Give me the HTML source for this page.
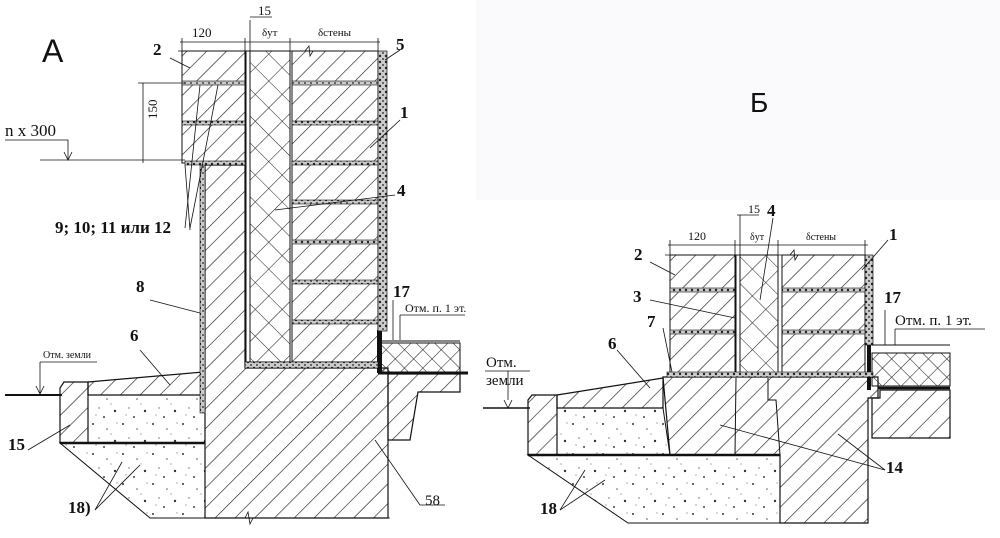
<!DOCTYPE html>
<html><head><meta charset="utf-8"><style>
html,body{margin:0;padding:0;background:#fff;}
svg{display:block;}
text{font-family:"Liberation Serif","DejaVu Serif",serif;fill:#111;}
.b{font-weight:bold;font-size:17px;}
</style></head><body>
<svg width="1000" height="538" viewBox="0 0 1000 538" xmlns="http://www.w3.org/2000/svg">
<defs>
<pattern id="h" width="14" height="14" patternUnits="userSpaceOnUse" patternTransform="rotate(45)">
<line x1="0" y1="0" x2="0" y2="14" stroke="#222" stroke-width="1.3"/></pattern>
<pattern id="x" width="19" height="19" patternUnits="userSpaceOnUse" patternTransform="rotate(45)">
<line x1="0" y1="0" x2="0" y2="19" stroke="#222" stroke-width="1.1"/><line x1="0" y1="0" x2="19" y2="0" stroke="#222" stroke-width="1.1"/></pattern>
<pattern id="xs" width="13" height="13" patternUnits="userSpaceOnUse" patternTransform="rotate(45)">
<line x1="0" y1="0" x2="0" y2="13" stroke="#222" stroke-width="1.1"/><line x1="0" y1="0" x2="13" y2="0" stroke="#222" stroke-width="1.1"/></pattern>
<pattern id="d" width="30" height="30" patternUnits="userSpaceOnUse">
<circle cx="3" cy="4" r="1" fill="#333"/><circle cx="17" cy="9" r="0.8" fill="#555"/><circle cx="25" cy="21" r="1.2" fill="#333"/><circle cx="9" cy="18" r="0.7" fill="#666"/><circle cx="14" cy="27" r="1" fill="#444"/><circle cx="27" cy="3" r="0.6" fill="#777"/><circle cx="6" cy="25" r="0.6" fill="#777"/><circle cx="21" cy="14" r="0.6" fill="#777"/></pattern>
<pattern id="m" width="6" height="6" patternUnits="userSpaceOnUse">
<rect width="6" height="6" fill="#ccc"/><circle cx="2" cy="2" r="1.2" fill="#222"/><circle cx="5" cy="5" r="1" fill="#444"/></pattern>
</defs>
<rect x="476" y="0" width="524" height="200" fill="#fafafc"/>

<!-- ===== PANEL A ===== -->
<text x="42" y="62" style="font-family:'Liberation Sans',sans-serif;font-size:32px">А</text>
<polygon points="60,443 205,443 205,518 150,518" fill="url(#d)" stroke="#111" stroke-width="1"/>
<rect x="88" y="395" width="117" height="48" fill="url(#d)" stroke="#111" stroke-width="1"/>
<polygon points="64,382 88,382 88,443 60,443 60,388" fill="url(#h)" stroke="#111" stroke-width="1.2"/>
<polygon points="88,382 203,372 205,395 88,395" fill="url(#h)" stroke="#111" stroke-width="1.2"/>
<line x1="60" y1="443" x2="205" y2="443" stroke="#111" stroke-width="2.5"/>
<line x1="5" y1="395" x2="62" y2="395" stroke="#111" stroke-width="2"/>
<polygon points="205,165 245,165 245,368 388,368 388,518 205,518" fill="url(#h)" stroke="#111" stroke-width="1.2"/>
<rect x="200" y="165" width="5" height="248" fill="url(#m)" stroke="#111" stroke-width="0.6"/>
<polygon points="388,374 460,374 460,392 418,392 410,440 388,440" fill="url(#h)" stroke="#111" stroke-width="1.2"/>
<rect x="380" y="343" width="80" height="29" fill="url(#xs)" stroke="#111" stroke-width="1"/>
<line x1="380" y1="341" x2="460" y2="341" stroke="#111" stroke-width="1"/>
<line x1="378" y1="373" x2="468" y2="373" stroke="#111" stroke-width="3"/>
<rect x="377" y="330" width="5" height="43" fill="#111"/>
<rect x="182" y="51" width="63" height="112" fill="url(#h)" stroke="#111" stroke-width="1"/>
<rect x="246" y="51" width="4" height="311" fill="#fff" stroke="#111" stroke-width="1"/>
<rect x="250" y="51" width="40" height="311" fill="url(#x)" stroke="#111" stroke-width="1"/>
<rect x="292" y="51" width="86" height="311" fill="url(#h)" stroke="#111" stroke-width="1"/>
<rect x="378" y="51" width="9" height="280" fill="url(#m)" stroke="#111" stroke-width="0.7"/>
<g fill="url(#m)" stroke="#111" stroke-width="0.6">
<rect x="182" y="81" width="63" height="4"/><rect x="182" y="121" width="63" height="4"/><rect x="185" y="161" width="60" height="4"/>
<rect x="292" y="81" width="86" height="4"/><rect x="292" y="121" width="86" height="4"/><rect x="292" y="161" width="86" height="4"/>
<rect x="292" y="200" width="86" height="4"/><rect x="292" y="240" width="86" height="4"/><rect x="292" y="280" width="86" height="4"/><rect x="292" y="320" width="86" height="4"/>
<rect x="245" y="362" width="133" height="6"/>
</g>
<g stroke="#111" stroke-width="0.8" fill="none">
<line x1="180" y1="42" x2="380" y2="42"/>
<line x1="182" y1="38" x2="182" y2="55"/><line x1="245" y1="38" x2="245" y2="55"/><line x1="250" y1="20" x2="250" y2="55"/><line x1="290" y1="38" x2="290" y2="55"/><line x1="378" y1="38" x2="378" y2="55"/>
<line x1="178" y1="51" x2="305" y2="51"/><polyline points="305,51 309,46 310,56 313,51 378,51"/>
<line x1="250" y1="17" x2="272" y2="17"/>
<line x1="143" y1="83" x2="143" y2="163"/><line x1="138" y1="83" x2="185" y2="83"/><line x1="40" y1="160" x2="185" y2="160"/>
<polyline points="5,140 68,140 68,160"/><polyline points="64,152 68,160 72,152"/>
<polyline points="40,362 97,362"/><line x1="40" y1="362" x2="40" y2="394"/><polyline points="36,386 40,394 44,386"/>
<line x1="400" y1="315" x2="465" y2="315"/><line x1="400" y1="315" x2="400" y2="340"/><line x1="393" y1="300" x2="393" y2="340"/>
<line x1="185" y1="165" x2="190" y2="230"/><line x1="218" y1="85" x2="190" y2="228"/><line x1="200" y1="85" x2="185" y2="228"/>
<line x1="170" y1="58" x2="190" y2="68"/><line x1="400" y1="50" x2="385" y2="60"/><line x1="400" y1="120" x2="370" y2="148"/><line x1="395" y1="195" x2="275" y2="210"/>
<line x1="150" y1="300" x2="200" y2="313"/><line x1="140" y1="350" x2="170" y2="385"/>
<line x1="28" y1="450" x2="70" y2="425"/><line x1="95" y1="510" x2="122" y2="462"/><line x1="95" y1="510" x2="140" y2="465"/>
<line x1="375" y1="440" x2="420" y2="505"/><line x1="420" y1="505" x2="445" y2="505"/>
<line x1="200" y1="518" x2="245" y2="518"/><polyline points="245,518 248,512 250,524 253,518 390,518"/>
</g>
<g style="font-size:13px">
<text x="192" y="37">120</text><text x="258" y="15">15</text><text x="262" y="36" style="font-size:11px">δут</text><text x="318" y="36" style="font-size:11px">δстены</text>
<text x="152" y="134" transform="rotate(-90 147 124)">150</text>
<text x="5" y="136" style="font-size:17px">n x 300</text>
<text x="43" y="358" style="font-size:10px">Отм. земли</text>
<text x="405" y="312" style="font-size:12px">Отм. п. 1 эт.</text>
</g>
<text class="b" x="153" y="55">2</text><text class="b" x="396" y="50">5</text><text class="b" x="400" y="118">1</text><text class="b" x="397" y="196">4</text>
<text class="b" x="55" y="233">9; 10; 11 или 12</text><text class="b" x="136" y="292">8</text><text class="b" x="130" y="341">6</text>
<text class="b" x="393" y="297">17</text><text class="b" x="8" y="450">15</text><text class="b" x="68" y="513">18)</text>
<text x="425" y="505" style="font-size:15px">58</text>

<!-- ===== PANEL B ===== -->
<text x="750" y="112" style="font-family:'Liberation Sans',sans-serif;font-size:28px">Б</text>
<polygon points="528,455 780,455 780,523 628,523" fill="url(#d)" stroke="#111" stroke-width="1"/>
<polygon points="557,408 663,408 670,455 557,455" fill="url(#d)" stroke="#111" stroke-width="1"/>
<polygon points="532,395 557,395 557,455 528,455 528,400" fill="url(#h)" stroke="#111" stroke-width="1.2"/>
<polygon points="557,395 663,378 663,408 557,408" fill="url(#h)" stroke="#111" stroke-width="1.2"/>
<line x1="528" y1="455" x2="780" y2="455" stroke="#111" stroke-width="2.5"/>
<line x1="483" y1="408" x2="530" y2="408" stroke="#111" stroke-width="1.5"/>
<polygon points="663,377 878,377 878,398 868,398 868,523 780,523 780,455 670,455" fill="url(#h)" stroke="#111" stroke-width="1.2"/>
<polyline points="736,378 735,455" stroke="#111" fill="none" stroke-width="1"/>
<polyline points="768,378 768,400 776,400 780,455" stroke="#111" fill="none" stroke-width="1"/>
<polygon points="880,390 950,390 950,438 872,438 872,398 880,398" fill="url(#h)" stroke="#111" stroke-width="1.2"/>
<rect x="872" y="353" width="78" height="33" fill="url(#xs)" stroke="#111" stroke-width="1"/>
<line x1="872" y1="345" x2="950" y2="345" stroke="#111" stroke-width="1"/>
<line x1="878" y1="388" x2="950" y2="388" stroke="#111" stroke-width="2.5"/>
<rect x="867" y="345" width="4" height="45" fill="#111"/>
<rect x="670" y="255" width="65" height="118" fill="url(#h)" stroke="#111" stroke-width="1"/>
<rect x="736" y="255" width="4" height="118" fill="#fff" stroke="#111" stroke-width="1"/>
<rect x="740" y="255" width="38" height="118" fill="url(#x)" stroke="#111" stroke-width="1"/>
<rect x="782" y="255" width="83" height="118" fill="url(#h)" stroke="#111" stroke-width="1"/>
<rect x="865" y="255" width="8" height="90" fill="url(#m)" stroke="#111" stroke-width="0.7"/>
<g fill="url(#m)" stroke="#111" stroke-width="0.6">
<rect x="670" y="288" width="65" height="4"/><rect x="670" y="330" width="65" height="4"/>
<rect x="782" y="288" width="83" height="4"/><rect x="782" y="330" width="83" height="4"/>
<rect x="667" y="372" width="206" height="5"/>
</g>
<g stroke="#111" stroke-width="0.8" fill="none">
<line x1="668" y1="245" x2="868" y2="245"/>
<line x1="670" y1="240" x2="670" y2="258"/><line x1="735" y1="240" x2="735" y2="258"/><line x1="740" y1="215" x2="740" y2="258"/><line x1="778" y1="240" x2="778" y2="258"/><line x1="865" y1="240" x2="865" y2="258"/>
<line x1="665" y1="255" x2="790" y2="255"/><polyline points="790,255 794,250 795,260 798,255 865,255"/>
<line x1="737" y1="215" x2="759" y2="215"/>
<line x1="485" y1="371" x2="530" y2="371"/><line x1="508" y1="400" x2="508" y2="371"/><polyline points="504,400 508,408 512,400"/>
<line x1="895" y1="329" x2="985" y2="329"/><line x1="895" y1="329" x2="895" y2="345"/><line x1="885" y1="310" x2="885" y2="345"/>
<line x1="650" y1="262" x2="675" y2="275"/><line x1="650" y1="300" x2="735" y2="318"/><line x1="663" y1="328" x2="672" y2="372"/>
<line x1="617" y1="350" x2="650" y2="388"/><line x1="773" y1="218" x2="760" y2="300"/><line x1="888" y1="240" x2="862" y2="270"/>
<line x1="885" y1="470" x2="720" y2="425"/><line x1="885" y1="470" x2="838" y2="434"/>
<line x1="560" y1="510" x2="585" y2="470"/><line x1="560" y1="510" x2="605" y2="480"/>
</g>
<g style="font-size:12px">
<text x="688" y="240">120</text><text x="748" y="213">15</text><text x="750" y="240" style="font-size:10px">δут</text><text x="806" y="240" style="font-size:10px">δстены</text>
<text x="486" y="367" style="font-size:15px">Отм.</text><text x="486" y="385" style="font-size:15px">земли</text>
<text x="895" y="325" style="font-size:15px">Отм. п. 1 эт.</text>
</g>
<text class="b" x="634" y="260">2</text><text class="b" x="633" y="302">3</text><text class="b" x="647" y="327">7</text><text class="b" x="608" y="349">6</text>
<text class="b" x="767" y="216">4</text><text class="b" x="889" y="240">1</text><text class="b" x="884" y="303">17</text>
<text class="b" x="886" y="473">14</text><text class="b" x="540" y="514">18</text>
</svg>
</body></html>
